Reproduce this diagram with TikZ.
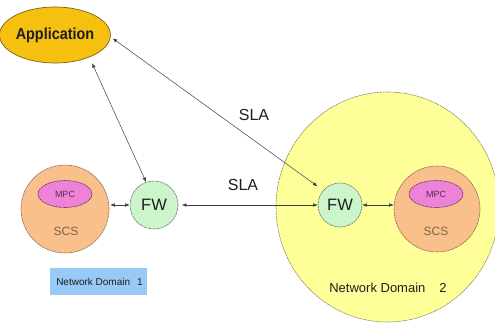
\documentclass[tikz,border=0pt]{standalone}
\usepackage{fontspec}
\setmainfont{Liberation Sans}
\usetikzlibrary{arrows.meta,shapes.geometric}

\definecolor{appfill}{HTML}{F5C010}
\definecolor{appline}{HTML}{7A6418}
\definecolor{scsfill}{HTML}{F9C08C}
\definecolor{scsline}{HTML}{8A6A50}
\definecolor{scstext}{HTML}{7A6446}
\definecolor{mpcfill}{HTML}{EE82D6}
\definecolor{mpcline}{HTML}{6E3060}
\definecolor{mpctext}{HTML}{5A2A5A}
\definecolor{fwfill}{HTML}{CCF5CC}
\definecolor{fwline}{HTML}{6A786A}
\definecolor{domfill}{HTML}{FFFF99}
\definecolor{domline}{HTML}{8A8A60}
\definecolor{boxfill}{HTML}{99C9F7}
\definecolor{ink}{HTML}{1E1E1E}

\tikzset{
  outline/.style={line width=0.6pt, dash pattern=on 2pt off 0.7pt},
  appnode/.style={ellipse, fill=appfill, draw=appline, line width=0.7pt,
    minimum width=97pt, minimum height=56pt, inner sep=0pt,
    font=\fontsize{16}{16}\selectfont\bfseries, text=ink},
  scsnode/.style={circle, fill=scsfill, draw=scsline, outline, inner sep=0pt},
  mpcnode/.style={ellipse, fill=mpcfill, draw=mpcline, outline, inner sep=0pt,
    minimum width=54pt, minimum height=27pt,
    font=\fontsize{9}{9}\selectfont, text=mpctext},
  scslabel/.style={font=\fontsize{12}{12}\selectfont, text=scstext, inner sep=0pt},
  fwnode/.style={circle, fill=fwfill, draw=fwline, outline, inner sep=0pt,
    font=\fontsize{16.5}{16.5}\selectfont, text=ink},
  domnode/.style={ellipse, fill=domfill, draw=domline, outline, inner sep=0pt,
    minimum width=223pt, minimum height=230pt},
  slalabel/.style={font=\fontsize{16}{16}\selectfont, text=ink, inner sep=0pt},
  ndbox/.style={rectangle, fill=boxfill, inner sep=0pt,
    minimum width=97pt, minimum height=27pt,
    font=\fontsize{10}{10}\selectfont, text=ink},
  ndlabel/.style={font=\fontsize{13}{13}\selectfont, text=ink, inner sep=0pt},
  link/.style={<->, >={Latex[length=4.5pt,width=3.6pt]}, draw=black!75, line width=0.5pt}
}

\begin{document}
\begin{tikzpicture}[x=1pt,y=-1pt]
\useasboundingbox (0,0) rectangle (495,324);

% network domain 2 backdrop
\node[domnode] (dom2) at (387.5,207) {};
\node[ndlabel] (nd2) at (388,288) {Network Domain\hspace{14pt}2};

% network domain 1 tag
\node[ndbox] (nd1) at (98.5,281.5) {\hspace{2pt}Network Domain\hspace{7pt}1};

% application
\node[appnode] (app) at (55,35) {\scalebox{0.9}[1]{Application}};

% domain 1: SCS with MPC, and its firewall
\node[scsnode, minimum size=88pt] (scs1) at (65,209) {};
\node[mpcnode] (mpc1) at (65,194) {MPC};
\node[scslabel] (scst1) at (66,231) {SCS};
\node[fwnode, minimum size=48pt] (fw1) at (154,205) {FW};

% domain 2: firewall, and SCS with MPC
\node[fwnode, minimum size=44pt] (fw2) at (340,205) {FW};
\node[scsnode, minimum size=86pt] (scs2) at (437,209) {};
\node[mpcnode] (mpc2) at (436,194) {MPC};
\node[scslabel] (scst2) at (436,231) {SCS};

% SLA labels
\node[slalabel] (sla1) at (254,115) {SLA};
\node[slalabel] (sla2) at (243,185) {SLA};

% connectors
\draw[link, shorten <=6.5pt] (app.-33) -- (fw1.109);
\draw[link, shorten <=2.5pt, shorten >=7pt] (app.-2) -- (fw2.139);
\draw[link, shorten <=3.5pt] (fw1.east) -- (fw2.west);
\draw[link, shorten <=1pt] (fw1.west -| scs1.east) -- (fw1.west);
\draw[link] (fw2.east) -- (fw2.east -| scs2.west);
\end{tikzpicture}
\end{document}
